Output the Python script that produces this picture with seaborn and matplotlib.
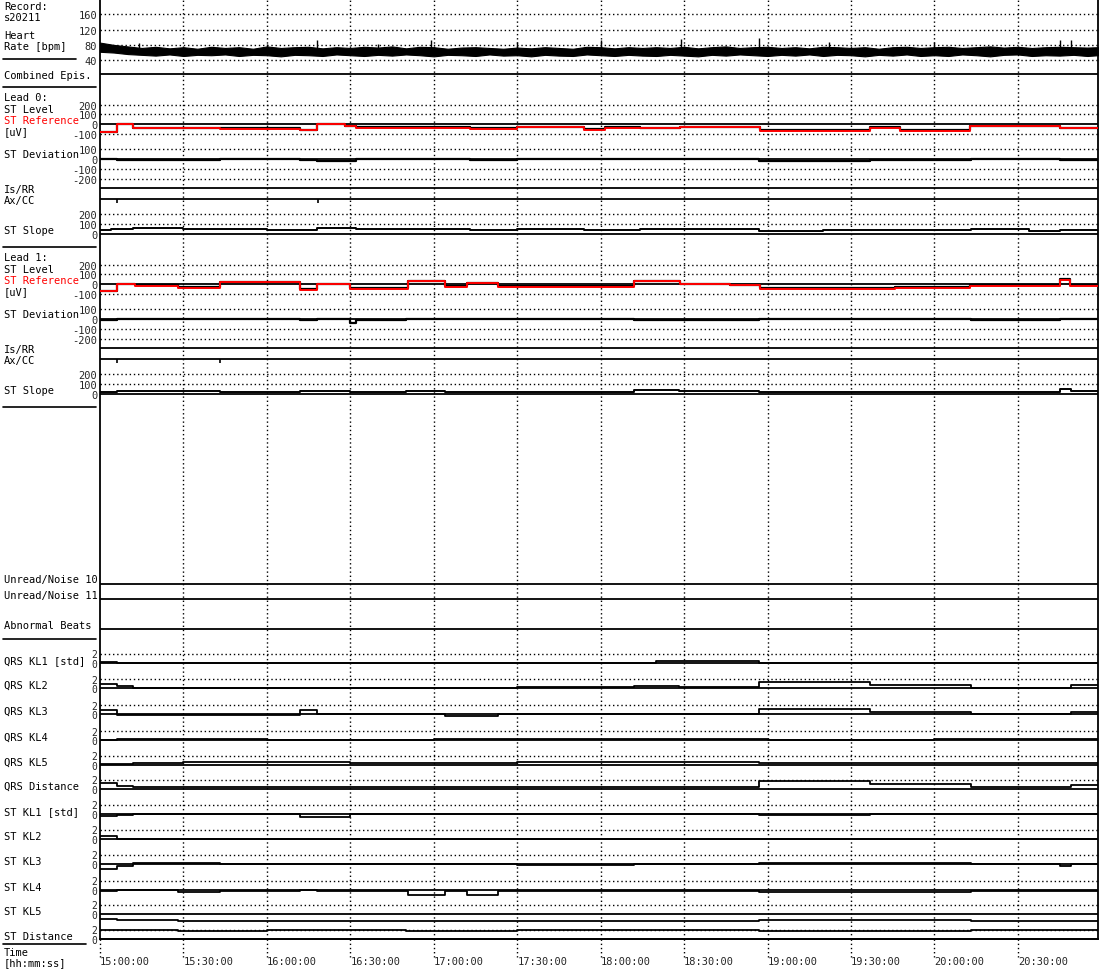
import numpy as np
import matplotlib
matplotlib.use("Agg")
import matplotlib.pyplot as plt
import seaborn as sns

sns.set_style("white")
plt.rcParams["font.family"] = ["DejaVu Sans Mono"]
plt.rcParams["font.size"] = 7.5

W, H = 1100, 970
X0, X1 = 100, 1098
T_END = 358.8  # minutes after 15:00:00 at right edge

# ---------------- data (time in minutes after 15:00:00) ----------------
tick_t = [0, 30, 60, 90, 120, 150, 180, 210, 240, 270, 300, 330]
tick_labels = ["15:00:00", "15:30:00", "16:00:00", "16:30:00", "17:00:00", "17:30:00",
               "18:00:00", "18:30:00", "19:00:00", "19:30:00", "20:00:00", "20:30:00"]

# heart rate band (upper / lower edge every 5 min) and isolated spikes
hr_t = list(range(0, 356, 5)) + [T_END]
hr_hi = [86, 80, 76, 72, 75, 71, 74, 70, 75, 72,
         74, 70, 76, 72, 74, 75, 71, 74, 72, 75,
         73, 76, 71, 75, 74, 70, 73, 74, 72, 70,
         73, 71, 74, 72, 70, 75, 74, 71, 74, 72,
         74, 72, 75, 71, 74, 76, 72, 74, 75, 72,
         74, 71, 75, 74, 72, 74, 70, 74, 75, 72,
         74, 75, 72, 74, 76, 73, 75, 72, 74, 75,
         74, 73, 74]
hr_lo = [62, 60, 56, 54, 52, 55, 51, 54, 53, 55,
         51, 54, 53, 50, 54, 53, 51, 55, 53, 51,
         54, 52, 55, 53, 50, 54, 53, 51, 55, 52,
         53, 50, 54, 52, 51, 55, 53, 51, 54, 52,
         51, 54, 52, 50, 54, 52, 55, 53, 51, 54,
         52, 55, 51, 54, 53, 50, 54, 52, 55, 51,
         53, 51, 55, 53, 50, 54, 55, 51, 53, 52,
         54, 51, 53]
hr_spike_t = [14, 60, 78, 100, 119, 150, 180, 209, 237, 262, 300, 345, 349]
hr_spike_v = [84, 82, 92, 83, 94, 88, 92, 96, 97, 88, 88, 93, 92]

# lead 0 (uV)
ref0_t = [0, 6, 12, 43, 72, 78, 88, 92, 133, 150, 174, 181.5, 194, 208.5, 237.3, 276.8, 287.6, 312.8, 345]
ref0_v = [-85, -5, -45, -50, -65, -5, -25, -40, -55, -35, -60, -40, -45, -35, -70, -40, -70, -25, -45]
lvl0_v = [-80, 0, -40, -45, -60, 0, -20, -35, -45, -30, -55, -35, -40, -30, -60, -35, -65, -20, -40]
dev0_t = [0, 6, 12, 43, 72, 78, 92, 133, 150, 237, 277, 313, 345]
dev0_v = [5, -10, -5, 0, -5, -15, 0, -5, 0, -15, -5, 0, -10]
slope0_t = [0, 4, 12, 30, 43, 60, 78, 92, 110, 133, 150, 174, 194, 208, 237, 260, 277, 288, 313, 334, 345]
slope0_v = [40, 55, 60, 50, 55, 45, 60, 55, 50, 40, 50, 45, 55, 50, 35, 40, 45, 40, 50, 35, 40]
epis0_t = [6.1, 78.4]

# lead 1 (uV)
ref1_t = [0, 6, 12.6, 28, 43, 72, 78, 89.9, 110.7, 124, 132, 143, 192, 208.5, 226.5, 237.3, 285.8, 312.8, 345, 348.7]
ref1_v = [-75, -5, -25, -40, 20, -60, 0, -55, 30, -30, 10, -30, 30, -5, -15, -50, -40, -20, 45, -20]
lvl1_v = [-70, 5, -15, -35, 25, -55, 5, -45, 35, -25, 15, -25, 35, 0, -10, -45, -35, -15, 50, -15]
dev1_t = [0, 6, 28, 43, 72, 78, 90, 92, 110, 143, 192, 237, 313, 345]
dev1_v = [-10, 0, 5, 0, -5, 0, -40, -5, 5, 0, -5, 0, -5, 0]
slope1_t = [0, 6, 28, 43, 72, 90, 110, 124, 143, 192, 208, 237, 286, 313, 345, 349]
slope1_v = [20, 30, 35, 25, 30, 20, 30, 25, 20, 45, 35, 25, 20, 25, 50, 30]
epis1_t = [6.1, 43]

# Karhunen-Loeve tracks [std]
kl_names = ["QRS KL1 [std]", "QRS KL2", "QRS KL3", "QRS KL4", "QRS KL5", "QRS Distance",
            "ST KL1 [std]", "ST KL2", "ST KL3", "ST KL4", "ST KL5", "ST Distance"]
kl_t = [
    [0, 6, 28, 174, 200, 237, 277],
    [0, 6, 12, 150, 192, 208, 237, 277, 313, 349],
    [0, 6, 72, 78, 124, 143, 237, 277, 313, 349],
    [0, 6, 60, 120, 180, 240, 300],
    [0, 12, 30, 90, 150, 237, 313],
    [0, 6, 12, 237, 277, 313, 349],
    [0, 6, 12, 72, 90, 237, 277],
    [0, 6, 12],
    [0, 6, 12, 43, 150, 192, 237, 313, 345, 349],
    [0, 6, 28, 43, 72, 78, 110.7, 124, 132, 143, 237, 313],
    [0, 6, 28, 60, 110, 150, 237, 313],
    [0, 6, 28, 60, 110, 150, 237, 313],
]
kl_v = [
    [0.2, 0.1, 0.0, 0.0, 0.5, 0.1, 0.0],
    [0.9, 0.4, 0.0, 0.2, 0.5, 0.2, 1.3, 0.6, 0.0, 0.6],
    [0.8, -0.2, 0.8, -0.1, -0.4, -0.1, 1.0, 0.5, -0.1, 0.5],
    [0.0, 0.2, 0.1, 0.3, 0.2, 0.1, 0.2],
    [0.3, 0.5, 0.6, 0.5, 0.6, 0.5, 0.4],
    [1.3, 0.6, 0.4, 1.7, 1.0, 0.4, 0.8],
    [-0.5, -0.3, 0.0, -0.6, -0.1, -0.3, 0.0],
    [0.6, 0.0, 0.05],
    [-1.0, -0.4, 0.2, 0.0, -0.3, 0.1, 0.2, 0.0, -0.5, 0.1],
    [-0.2, -0.1, -0.4, -0.3, 0.1, -0.3, -1.1, -0.2, -1.1, -0.2, -0.4, -0.2],
    [-1.1, -1.3, -1.5, -1.4, -1.5, -1.4, -1.3, -1.4],
    [2.0, 1.8, 1.6, 1.8, 1.7, 1.8, 1.6, 1.8],
]

# ---------------- layout ----------------
fig = plt.figure(figsize=(W / 100, H / 100), dpi=100)
DOT = (0, (1, 2))


def px_axes(top, bottom):
    return fig.add_axes([X0 / W, 1 - bottom / H, (X1 - X0) / W, (bottom - top) / H])


def track(top, bottom, zero, ppu, dotted=(), solid=(0,), ticks=(), size=7.5):
    ax = px_axes(top, bottom)
    ax.set_xlim(0, T_END)
    ax.set_ylim(-(bottom - zero) / ppu, (zero - top) / ppu)
    ax.patch.set_alpha(0)
    for s in ax.spines.values():
        s.set_visible(False)
    ax.set_xticks([])
    ax.set_yticks(ticks)
    ax.set_yticklabels([str(v) for v in ticks], fontsize=size)
    ax.tick_params(axis="y", length=0, pad=2)
    for v in dotted:
        ax.axhline(v, color="k", lw=1, ls=DOT)
    for v in solid:
        ax.axhline(v, color="k", lw=1.3)
    return ax


def steps(ax, t, v, color="k", lw=1.5):
    x = list(t) + [T_END]
    y = list(v) + [v[-1]]
    sns.lineplot(x=x, y=y, ax=ax, color=color, lw=lw, drawstyle="steps-post", legend=False)
    ax.set_xlabel("")
    ax.set_ylabel("")


# frame with time grid
frame = px_axes(0, 940)
frame.set_xlim(0, T_END)
frame.set_ylim(940, 0)
frame.set_yticks([])
for s in frame.spines.values():
    s.set_linewidth(1.3)
    s.set_color("k")
frame.set_xticks(tick_t)
frame.set_xticklabels(tick_labels, ha="left", fontsize=7.5)
frame.tick_params(axis="x", length=0, pad=12)
for t in tick_t[1:]:
    frame.axvline(t, color="k", lw=1, ls=DOT)
frame.vlines(tick_t, 940, 958, color="k", lw=1, ls=DOT, clip_on=False)
for y in [75, 189, 200, 349, 360, 585, 600, 630]:
    frame.axhline(y, color="k", lw=1.3)

# heart rate
ax = track(0, 75, 76.5, 15.3 / 40, dotted=[40, 80, 120, 160], solid=(), ticks=[40, 80, 120, 160])
ax.fill_between(hr_t, hr_lo, hr_hi, color="k", lw=0.8)
ax.vlines(hr_spike_t, 70, hr_spike_v, color="k", lw=1)

# lead 0 and lead 1
for off, ref_t, ref_v, lvl_v, dev_t, dev_v, sl_t, sl_v, ep_t in [
        (0, ref0_t, ref0_v, lvl0_v, dev0_t, dev0_v, slope0_t, slope0_v, epis0_t),
        (160, ref1_t, ref1_v, lvl1_v, dev1_t, dev1_v, slope1_t, slope1_v, epis1_t)]:
    ax = track(88 + off, 145 + off, 125 + off, 0.0967, dotted=[200, 100, -100], ticks=[200, 100, 0, -100])
    steps(ax, ref_t, lvl_v, "k", 1.6)
    steps(ax, ref_t, ref_v, "#ff0000", 1.4)
    ax = track(145 + off, 189 + off, 160 + off, 0.1, dotted=[100, -100, -200], ticks=[100, 0, -100, -200])
    steps(ax, dev_t, dev_v, "k", 1.6)
    ax = track(200 + off, 240 + off, 235 + off, 0.1, dotted=[200, 100], ticks=[200, 100, 0])
    steps(ax, sl_t, sl_v, "k", 1.4)
    ax.vlines(ep_t, 315, 350, color="k", lw=1.2)

# KL tracks
kl_zero = [664, 689, 715, 741, 766, 790, 815, 840, 865, 891, 915, 940]
for z, t, v in zip(kl_zero, kl_t, kl_v):
    ax = track(z - 24, z + 8, z, 4.75, dotted=[2], solid=(0,), ticks=[2, 0], size=7)
    steps(ax, t, v, "k", 1.3)

# ---------------- left-hand labels ----------------
def lab(y, s, color="k"):
    fig.text(4 / W, 1 - y / H, s, color=color, va="center", ha="left", fontsize=7.5)


def sep(y, x1):
    fig.add_artist(plt.Line2D([3 / W, x1 / W], [1 - y / H, 1 - y / H], color="k", lw=1.2))


lab(7, "Record:")
lab(18, "s20211")
lab(36, "Heart")
lab(47, "Rate [bpm]")
sep(60, 76)
lab(76, "Combined Epis.")
sep(88, 96)
for off, lead in [(0, "Lead 0:"), (160, "Lead 1:")]:
    lab(98 + off, lead)
    lab(110 + off, "ST Level")
    lab(121 + off, "ST Reference", "#ff0000")
    lab(132 + off, "[uV]")
    lab(155 + off, "ST Deviation")
    lab(190 + off, "Is/RR")
    lab(201 + off, "Ax/CC")
    lab(231 + off, "ST Slope")
    sep(248 + off, 96)
lab(580, "Unread/Noise 10")
lab(596, "Unread/Noise 11")
lab(626, "Abnormal Beats")
sep(640, 96)
for z, name in zip(kl_zero, kl_names):
    lab(z - 3, name)
sep(945, 86)
lab(953, "Time")
lab(963, "[hh:mm:ss]")

fig.savefig("out.png", dpi=100)
